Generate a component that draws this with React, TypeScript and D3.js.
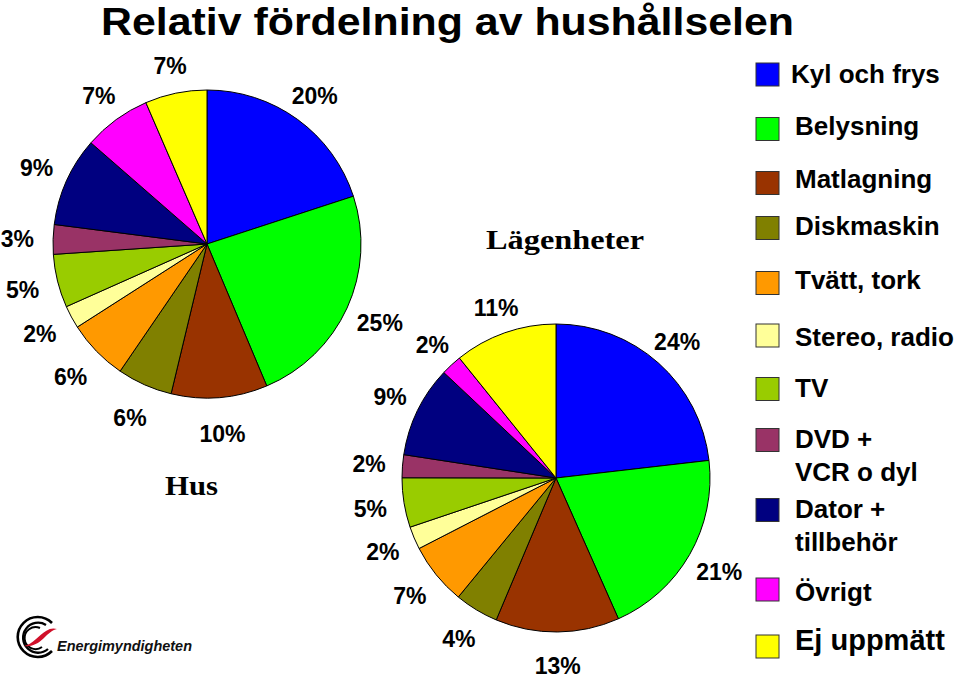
import React from "react";
import * as d3 from "d3";

const categories = [
  "Kyl och frys",
  "Belysning",
  "Matlagning",
  "Diskmaskin",
  "Tvätt, tork",
  "Stereo, radio",
  "TV",
  "DVD + |VCR o dyl",
  "Dator + |tillbehör",
  "Övrigt",
  "Ej uppmätt",
];
const colors = [
  "#0000FF", "#00FF00", "#993300", "#808000", "#FF9900", "#FFFF99",
  "#99CC00", "#993366", "#000080", "#FF00FF", "#FFFF00",
];
const husValues = [20.0, 23.7, 10.1, 5.8, 6.4, 2.4, 5.6, 3.1, 9.4, 7.1, 6.5];
const husLabels = ["20%", "25%", "10%", "6%", "6%", "2%", "5%", "3%", "9%", "7%", "7%"];
const lghValues = [23.2, 20.2, 13.0, 4.6, 6.5, 2.4, 5.2, 2.4, 9.6, 2.2, 10.8];
const lghLabels = ["24%", "21%", "13%", "4%", "7%", "2%", "5%", "2%", "9%", "2%", "11%"];
const title = "Relativ fördelning av hushållselen";
const husTitle = "Hus";
const lghTitle = "Lägenheter";

const legendY = [74.5, 129, 183, 228, 283, 335.5, 389, 440, 510, 589.5, 646.5];
const legendBaseline = [83, 135, 188, 235, 289, 346, 397, 448, 518, 601, 650];

function Pie({ cx, cy, r, values, labels, labelR }: any) {
  const pie = d3.pie<number>().sort(null).value((d) => d).startAngle(0).endAngle(2 * Math.PI);
  const arcs = pie(values);
  const arc = d3.arc<any>().innerRadius(0).outerRadius(r);
  return (
    <g transform={`translate(${cx},${cy})`}>
      {arcs.map((a, i) => (
        <path key={i} d={arc(a) || ""} fill={colors[i]} stroke="#000" strokeWidth={1} strokeLinejoin="round" />
      ))}
      {arcs.map((a, i) => {
        const mid = (a.startAngle + a.endAngle) / 2;
        // labels near the top sit a little closer to the pie
        const rr = labelR - 8 * Math.max(0, Math.cos(mid));
        const x = rr * Math.sin(mid);
        const y = -rr * Math.cos(mid);
        return (
          <text key={"l" + i} x={x} y={y} dy="0.36em" textAnchor="middle"
            fontFamily="Liberation Sans, Arial, sans-serif" fontWeight="bold" fontSize={23} fill="#000">
            {labels[i]}
          </text>
        );
      })}
    </g>
  );
}

export default function App() {
  return (
    <svg width={960} height={679} viewBox="0 0 960 679"
      style={{ position: "absolute", left: 0, top: 0, background: "#fff" }}>
      <rect width={960} height={679} fill="#fff" />
      <text x={101} y={35} fontFamily="Liberation Sans, Arial, sans-serif" fontWeight="bold"
        fontSize={38} textLength={693} lengthAdjust="spacingAndGlyphs">{title}</text>

      <Pie cx={207} cy={244} r={154} values={husValues} labels={husLabels} labelR={190} />
      <Pie cx={556} cy={478} r={154} values={lghValues} labels={lghLabels} labelR={188} />

      <text x={165} y={495} fontFamily="Liberation Serif, Times New Roman, serif" fontWeight="bold"
        fontSize={28} textLength={53} lengthAdjust="spacingAndGlyphs">{husTitle}</text>
      <text x={486} y={249} fontFamily="Liberation Serif, Times New Roman, serif" fontWeight="bold"
        fontSize={28} textLength={158} lengthAdjust="spacingAndGlyphs">{lghTitle}</text>

      {categories.map((c, i) => {
        const lines = c.split("|");
        const last = i === categories.length - 1;
        return (
          <g key={c}>
            <rect x={756} y={legendY[i] - 11.5} width={23} height={23} fill={colors[i]} stroke="#333" strokeWidth={1} />
            {lines.map((ln, j) => (
              <text key={j} x={i === 0 ? 791 : 795} y={legendBaseline[i] + j * 33}
                fontFamily="Liberation Sans, Arial, sans-serif" fontWeight="bold"
                fontSize={last ? 29 : 26}>{ln.trim()}</text>
            ))}
          </g>
        );
      })}

      {/* Logo */}
      <g transform="translate(37,637)">
        <path d="M15,-14 A20,20 0 1 0 15,14" fill="none" stroke="#000" strokeWidth={2.6} />
        <path d="M9,-12 A15,15 0 1 0 11,12" fill="none" stroke="#000" strokeWidth={2.3} />
        <path d="M3,-9 A11,11 0 1 0 5,10" fill="none" stroke="#000" strokeWidth={2} />
        <path d="M-13,9 C-4,7 2,-2 9,-6 C13,-9 17,-9 20,-8 C15,-7 11,-3 7,1 C1,7 -6,10 -13,9 Z" fill="#D0102A" />
      </g>
      <text x={57} y={651} fontFamily="Liberation Sans, Arial, sans-serif" fontStyle="italic" fontWeight="bold"
        fontSize={15} textLength={135} lengthAdjust="spacingAndGlyphs" fill="#111">Energimyndigheten</text>
    </svg>
  );
}
